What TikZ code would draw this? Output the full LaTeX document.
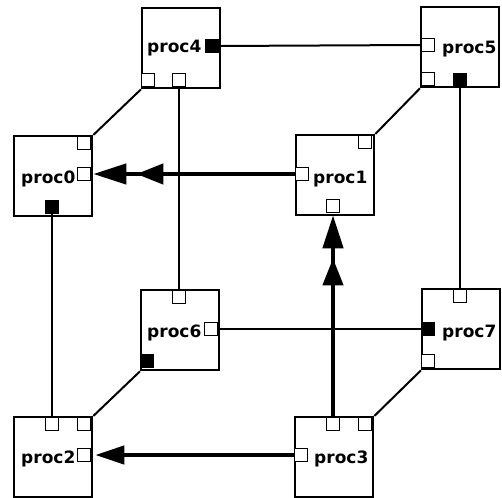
\documentclass[tikz,border=0pt]{standalone}
\usepackage{fontspec}
\setsansfont{DejaVu Sans}
\usetikzlibrary{arrows.meta}
\begin{document}
\begin{tikzpicture}[x=1pt,y=-1pt,
  procbox/.style={draw,line width=2.3pt,minimum width=78pt,minimum height=80pt,inner sep=0pt,anchor=north west},
  port/.style={draw,line width=1.5pt,fill=white,minimum size=13pt,inner sep=0pt},
  fport/.style={port,fill=black},
  lbl/.style={font=\sffamily\bfseries\fontsize{17}{17}\selectfont,inner sep=0pt,anchor=base west},
  thin/.style={line width=2pt},
  thick/.style={line width=4.2pt},
  dbl/.style={-{Triangle[length=27pt,width=20pt,sep=10pt]Triangle[length=33pt,width=20pt,sep=2pt]}},
  sgl/.style={-{Triangle[length=29pt,width=18pt,sep=4pt]}}
]
\useasboundingbox (0,0) rectangle (502,497);
% boxes
\node[procbox] (b4) at (141,7) {};
\node[procbox] (b5) at (420,6) {};
\node[procbox] (b0) at (13,135) {};
\node[procbox] (b1) at (295,134) {};
\node[procbox] (b6) at (140,289) {};
\node[procbox] (b7) at (421,288) {};
\node[procbox] (b2) at (13,416) {};
\node[procbox] (b3) at (294,416) {};
% labels
\node[lbl] (l4) at (147,53) {proc4};
\node[lbl] (l5) at (442,54) {proc5};
\node[lbl] (l0) at (21,183) {proc0};
\node[lbl] (l1) at (313,183) {proc1};
\node[lbl] (l6) at (147,337) {proc6};
\node[lbl] (l7) at (442,337) {proc7};
\node[lbl] (l2) at (21,463) {proc2};
\node[lbl] (l3) at (314,463) {proc3};
% ports
\node[fport] (p4r) at (212,46) {};
\node[port] (p4a) at (148,80) {};
\node[port] (p4b) at (179,80) {};
\node[port] (p5l) at (428,45) {};
\node[port] (p5a) at (428,79) {};
\node[fport] (p5b) at (460,80) {};
\node[port] (p0t) at (84,143) {};
\node[port] (p0r) at (84,174) {};
\node[fport] (p0b) at (52,207) {};
\node[port] (p1t) at (365,142) {};
\node[port] (p1l) at (302,174) {};
\node[port] (p1b) at (333,206) {};
\node[port] (p6t) at (179,297) {};
\node[port] (p6r) at (211,329) {};
\node[fport] (p6b) at (147,361) {};
\node[port] (p7t) at (460,296) {};
\node[fport] (p7l) at (428,329) {};
\node[port] (p7b) at (428,361) {};
\node[port] (p2t) at (52,424) {};
\node[port] (p2a) at (84,424) {};
\node[port] (p2r) at (84,455) {};
\node[port] (p3t) at (333,424) {};
\node[port] (p3a) at (365,424) {};
\node[port] (p3l) at (301,455) {};
% thin connectors
\draw[thin] (p4r.east) -- (p5l.west);
\draw[thin] (b4.south west) -- (b0.north east);
\draw[thin] (p4b.south) -- (p6t.north);
\draw[thin] (b5.south west) -- (b1.north east);
\draw[thin] (p5b.south) -- (p7t.north);
\draw[thin] (p0b.south) -- (p2t.north);
\draw[thin] (p6r.east) -- (p7l.west);
\draw[thin] (b6.south west) -- (b2.north east);
\draw[thin] (b3.north east) -- (b7.south west);
% thick arrows
\draw[thick,dbl] (p1l.west) -- (p0r.east);
\draw[thick,dbl] (p3t.north) -- (p1b.south);
\draw[thick,sgl] (p3l.west) -- (p2r.east);
\end{tikzpicture}
\end{document}
